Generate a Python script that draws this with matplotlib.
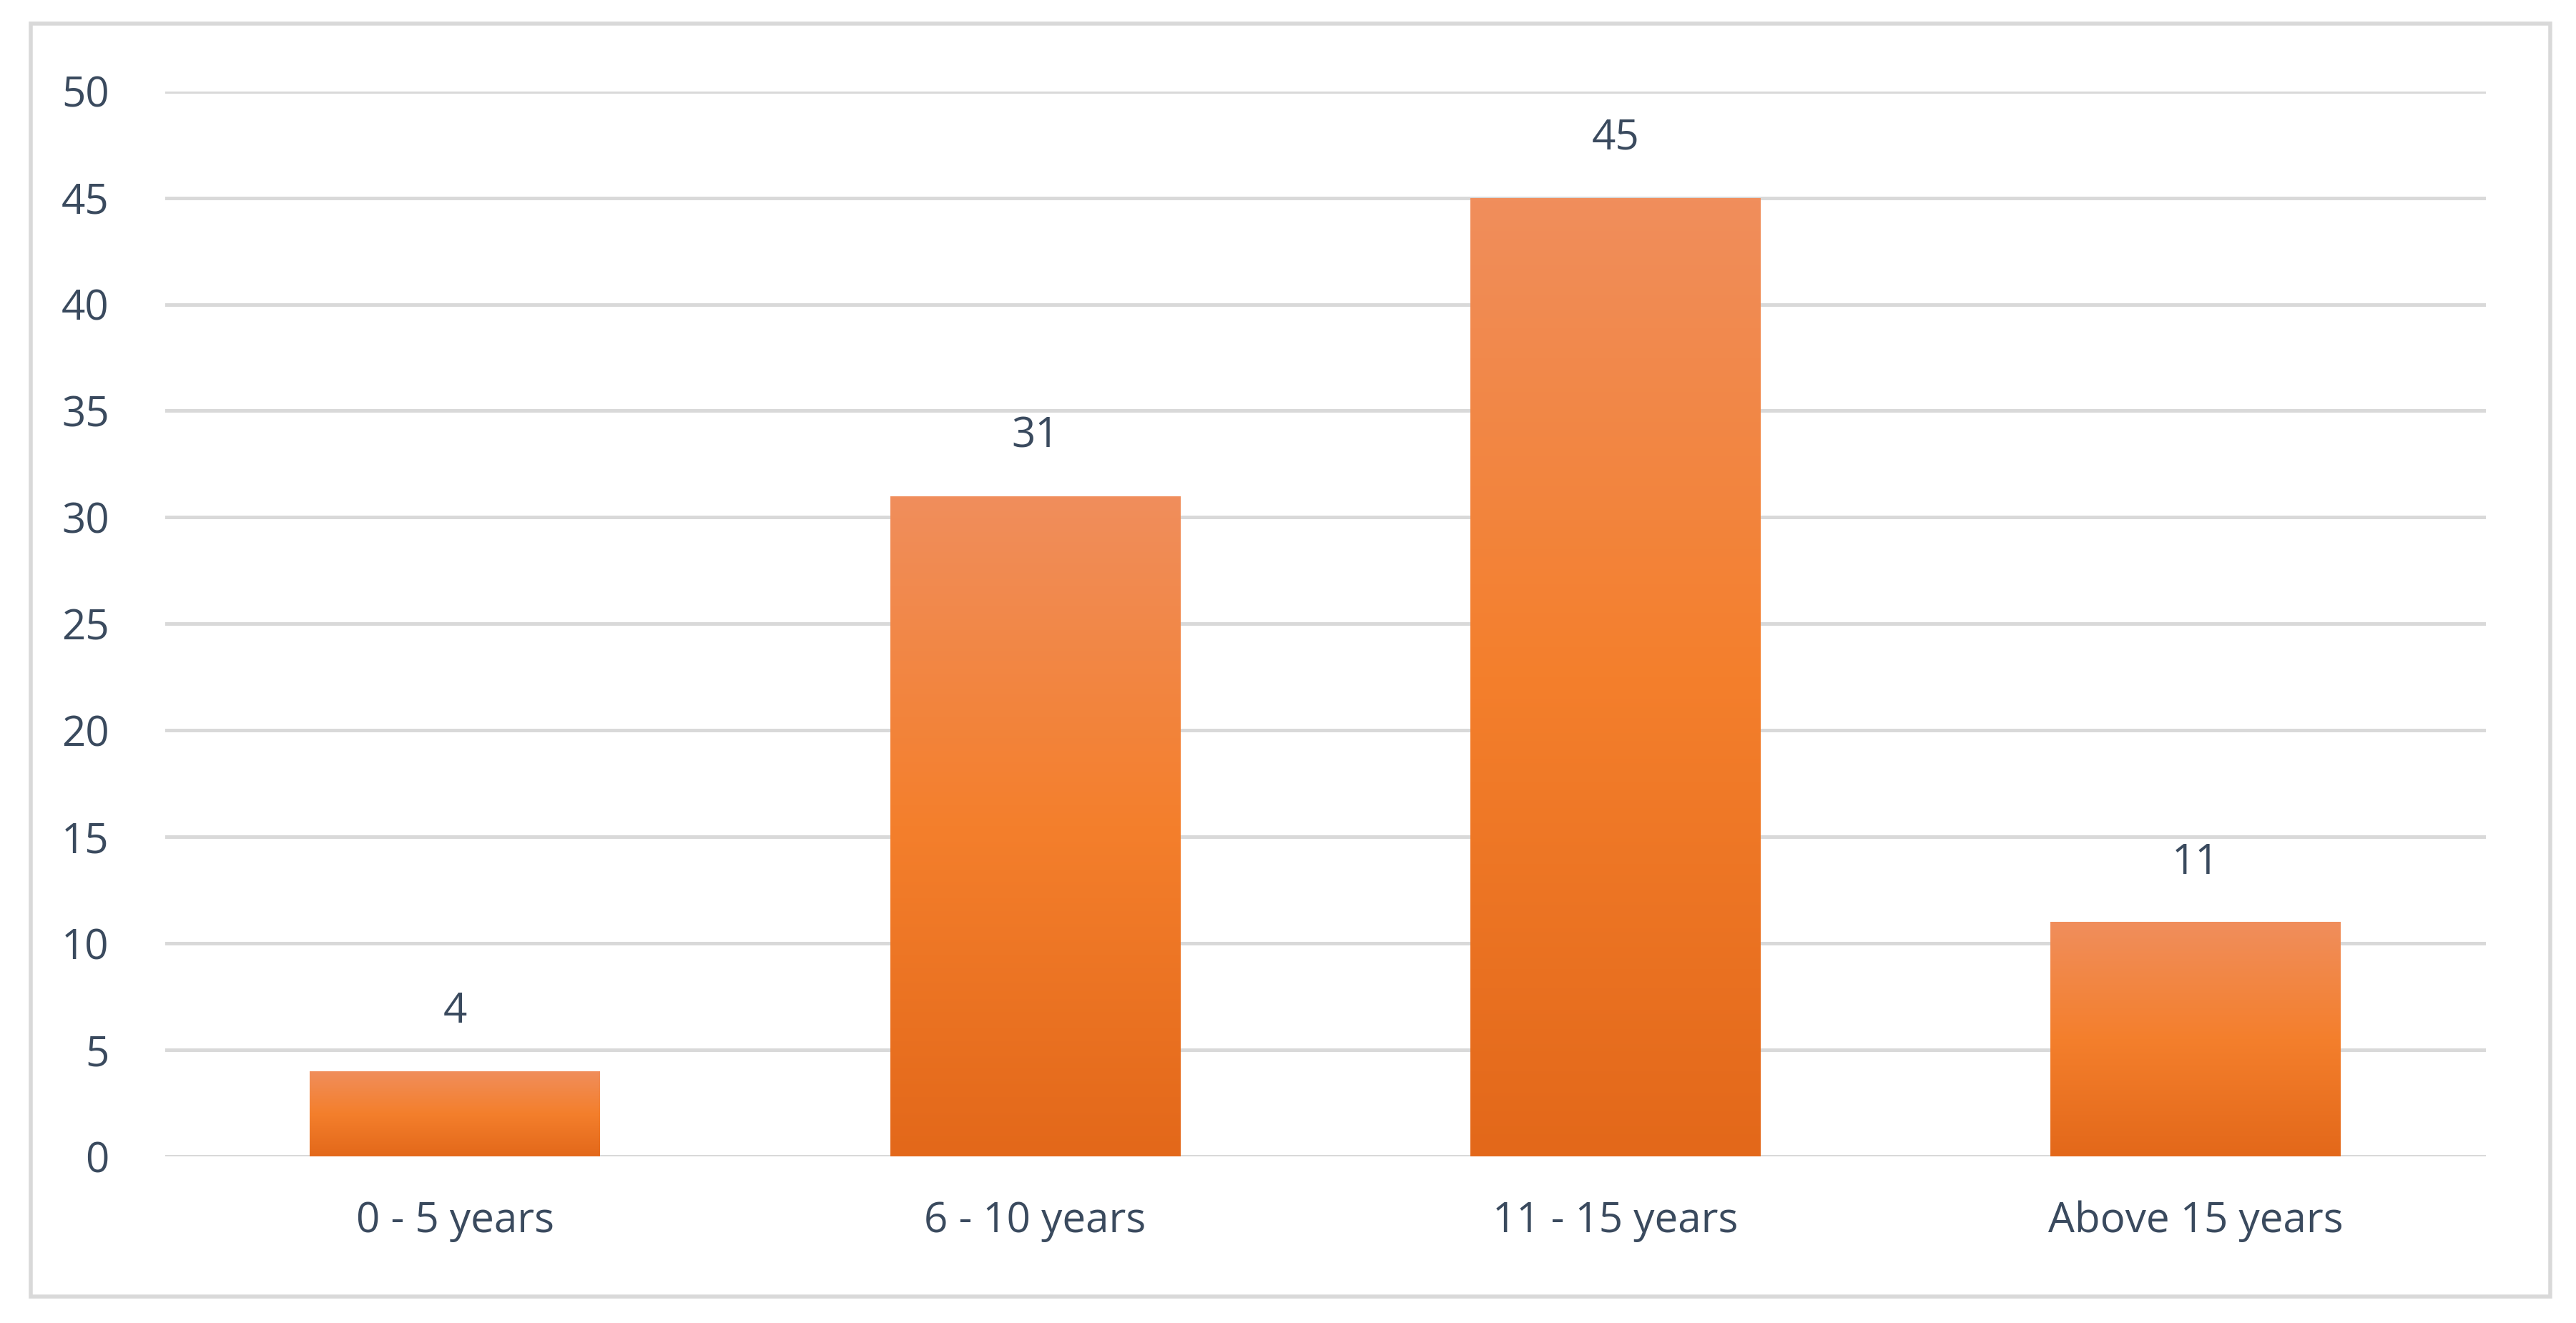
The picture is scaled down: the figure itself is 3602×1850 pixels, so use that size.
import numpy as np
import matplotlib.pyplot as plt
from matplotlib.patches import Rectangle
import matplotlib.colors as mcolors

categories = ["0 - 5 years", "6 - 10 years", "11 - 15 years", "Above 15 years"]
values = [4, 31, 45, 11]
yticks = [0, 5, 10, 15, 20, 25, 30, 35, 40, 45, 50]

text_color = "#3A4A5E"
plt.rcParams['font.family'] = ['Open Sans', 'DejaVu Sans']

fig = plt.figure(figsize=(18.01, 9.25), dpi=200)
# outer border like an Excel chart area
fig.patches.append(Rectangle((0.012, 0.02), 0.978, 0.962, transform=fig.transFigure,
                             fill=False, edgecolor="#D9D9D9", linewidth=2))
ax = fig.add_axes([0.064, 0.126, 0.901, 0.805])

cmap = mcolors.LinearSegmentedColormap.from_list("bar", ["#E3681A", "#F47F2C", "#F08E5C"])
grad = np.linspace(0, 1, 256).reshape(-1, 1)
width = 0.5
for i, v in enumerate(values):
    x0 = i - width / 2
    rect = Rectangle((x0, 0), width, v, facecolor="none", edgecolor="none")
    ax.add_patch(rect)
    im = ax.imshow(grad, cmap=cmap, origin="lower", aspect="auto",
                   extent=(x0, x0 + width, 0, v), zorder=2)
    im.set_clip_path(rect)
    ax.text(i, v + 1.8, str(v), ha="center", va="bottom", fontsize=21, color=text_color)

ax.set_xlim(-0.5, 3.5)
ax.set_ylim(0, 50)
ax.set_yticks(yticks)
ax.set_xticks(range(len(categories)))
ax.set_xticklabels(categories)
ax.grid(axis="y", color="#D9D9D9", linewidth=1.8, zorder=0)
ax.set_axisbelow(True)
for s in ax.spines.values():
    s.set_visible(False)
ax.tick_params(length=0, labelsize=21, labelcolor=text_color)
ax.tick_params(axis="x", pad=22)
ax.tick_params(axis="y", pad=28)

fig.savefig("out.png", dpi=200)
